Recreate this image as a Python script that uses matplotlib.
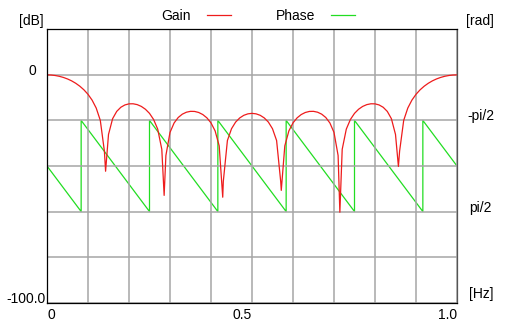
import numpy as np
import matplotlib
matplotlib.use("Agg")
import matplotlib.pyplot as plt


# ************************************************************
# Data
# ************************************************************

gain_freq = [
    0.00, 0.01, 0.02, 0.03, 0.04, 0.05, 0.06, 0.07, 0.08, 0.09,
    0.10, 0.11, 0.12, 0.13, 0.14, 0.15, 0.16, 0.17, 0.18, 0.19,
    0.20, 0.21, 0.22, 0.23, 0.24, 0.25, 0.26, 0.27, 0.28, 0.29,
    0.30, 0.31, 0.32, 0.33, 0.34, 0.35, 0.36, 0.37, 0.38, 0.39,
    0.40, 0.41, 0.42, 0.43, 0.44, 0.45, 0.46, 0.47, 0.48, 0.49,
    0.50, 0.51, 0.52, 0.53, 0.54, 0.55, 0.56, 0.57, 0.58, 0.59,
    0.60, 0.61, 0.62, 0.63, 0.64, 0.65, 0.66, 0.67, 0.68, 0.69,
    0.70, 0.71, 0.72, 0.73, 0.74, 0.75, 0.76, 0.77, 0.78, 0.79,
    0.80, 0.81, 0.82, 0.83, 0.84, 0.85, 0.86, 0.87, 0.88, 0.89,
    0.90, 0.91, 0.92, 0.93, 0.94, 0.95, 0.96, 0.97, 0.98, 0.99,
    1.00
]

gain_db = [
    0.00, -0.07, -0.28, -0.63, -1.13, -1.79, -2.63, -3.68, -4.97, -6.56,
    -8.54, -11.09, -14.56, -19.97, -33.50, -26.16, -19.24, -16.04, -14.23, -13.20,
    -12.72, -12.69, -13.06, -13.84, -15.08, -16.90, -19.58, -23.81, -32.68, -35.39,
    -25.26, -21.12, -18.72, -17.25, -16.39, -16.01, -16.05, -16.51, -17.42, -18.87,
    -21.08, -24.57, -31.17, -46.80, -28.83, -23.65, -20.74, -18.91, -17.75, -17.11,
    -16.90, -17.11, -17.75, -18.91, -20.74, -23.65, -28.83, -46.80, -31.17, -24.57,
    -21.08, -18.87, -17.42, -16.51, -16.05, -16.01, -16.39, -17.25, -18.72, -21.12,
    -25.26, -35.39, -32.68, -23.81, -19.58, -16.90, -15.08, -13.84, -13.06, -12.69,
    -12.72, -13.20, -14.23, -16.04, -19.24, -26.16, -33.50, -19.97, -14.56, -11.09,
    -8.54, -6.56, -4.97, -3.68, -2.63, -1.79, -1.13, -0.63, -0.28, -0.07,
    0.00
]

# notch bottoms
null_freq = [0.1429, 0.2857, 0.4286, 0.5714, 0.7143, 0.8571]
null_db = [-42.3, -52.9, -53.7, -50.7, -60.3, -40.2]

# phase sawtooth corners
half_pi = np.pi / 2
phase_freq = [
    0.0, 0.0833, 0.0833, 0.25, 0.25, 0.4167, 0.4167,
    0.5833, 0.5833, 0.75, 0.75, 0.9167, 0.9167, 1.0
]
phase_rad = [
    0.0, half_pi, -half_pi, half_pi, -half_pi, half_pi, -half_pi,
    half_pi, -half_pi, half_pi, -half_pi, half_pi, -half_pi, 0.0
]

x_tick_labels = ['0', '', '', '', '', '0.5', '', '', '', '', '1.0']


# ************************************************************
# Merge notch points into gain curve
# ************************************************************

f_all = np.array(gain_freq + null_freq)
g_all = np.array(gain_db + null_db)
order = np.argsort(f_all)
f_all = f_all[order]
g_all = g_all[order]


# ************************************************************
# Figure
# ************************************************************

plt.rcParams['font.family'] = ['Liberation Sans', 'DejaVu Sans']
plt.rcParams['font.size'] = 10

W, H = 524, 329
fig = plt.figure(figsize=(W / 100, H / 100), dpi=100)
fig.patch.set_facecolor('white')

ax = fig.add_axes([47 / W, (H - 302.7) / H, 410 / W, 273.4 / H])
ax2 = ax.twinx()

ax.set_zorder(ax2.get_zorder() + 1)
ax.patch.set_visible(False)
ax2.patch.set_visible(True)
ax2.patch.set_facecolor('white')

ph_line, = ax2.plot(
    phase_freq,
    phase_rad,
    color='#22dd22',
    linewidth=0.9
)

g_line, = ax.plot(
    f_all,
    g_all,
    color='#ee1c1c',
    linewidth=0.9
)

ax.set_xlim(0, 1.0)
ax.set_ylim(-100, 20)
ax2.set_ylim(3 * half_pi, -3 * half_pi)

ax.set_xticks(np.linspace(0, 1.0, 11))
ax.set_xticklabels(x_tick_labels)
ax.set_yticks([-100, -80, -60, -40, -20, 0, 20])
ax.tick_params(length=0, labelleft=False, pad=4)
ax2.set_yticks([])

labels = ax.get_xticklabels()
labels[0].set_ha('left')
labels[5].set_ha('right')
labels[10].set_ha('right')

ax.grid(True, color='#a6a6a6', linewidth=1.1)
ax.set_axisbelow(True)

for name in ['top', 'bottom', 'left']:
    ax.spines[name].set_color('black')
    ax.spines[name].set_linewidth(0.9)
ax.spines['right'].set_color('#555555')
ax.spines['right'].set_linewidth(0.9)
for s in ax2.spines.values():
    s.set_visible(False)


# ************************************************************
# Axis texts
# ************************************************************

ytr = ax.get_yaxis_transform()
ytr2 = ax2.get_yaxis_transform()

ax.text(-0.0268, 0, '0', transform=ytr, ha='right', va='baseline')
ax.text(-0.0024, -100, '-100.0', transform=ytr, ha='right', va='baseline')

ax.text(1.026, -half_pi, '-pi/2', transform=ytr2, ha='left', va='baseline')
ax.text(1.029, half_pi, 'pi/2', transform=ytr2, ha='left', va='baseline')
ax.text(1.029, 0.019, '[Hz]', transform=ax.transAxes, ha='left', va='baseline')

fig.text(19 / W, 1 - 25 / H, '[dB]', ha='left', va='baseline')
fig.text(466 / W, 1 - 25 / H, '[rad]', ha='left', va='baseline')

fig.legend(
    [g_line, ph_line],
    ['Gain', 'Phase'],
    ncol=2,
    markerfirst=False,
    frameon=False,
    loc='center',
    bbox_to_anchor=(258.4 / W, 1 - 15.8 / H),
    bbox_transform=fig.transFigure,
    handlelength=1.75,
    handletextpad=1.13,
    columnspacing=3.2,
    borderpad=0,
    borderaxespad=0
)

fig.savefig('out.png', dpi=100)
